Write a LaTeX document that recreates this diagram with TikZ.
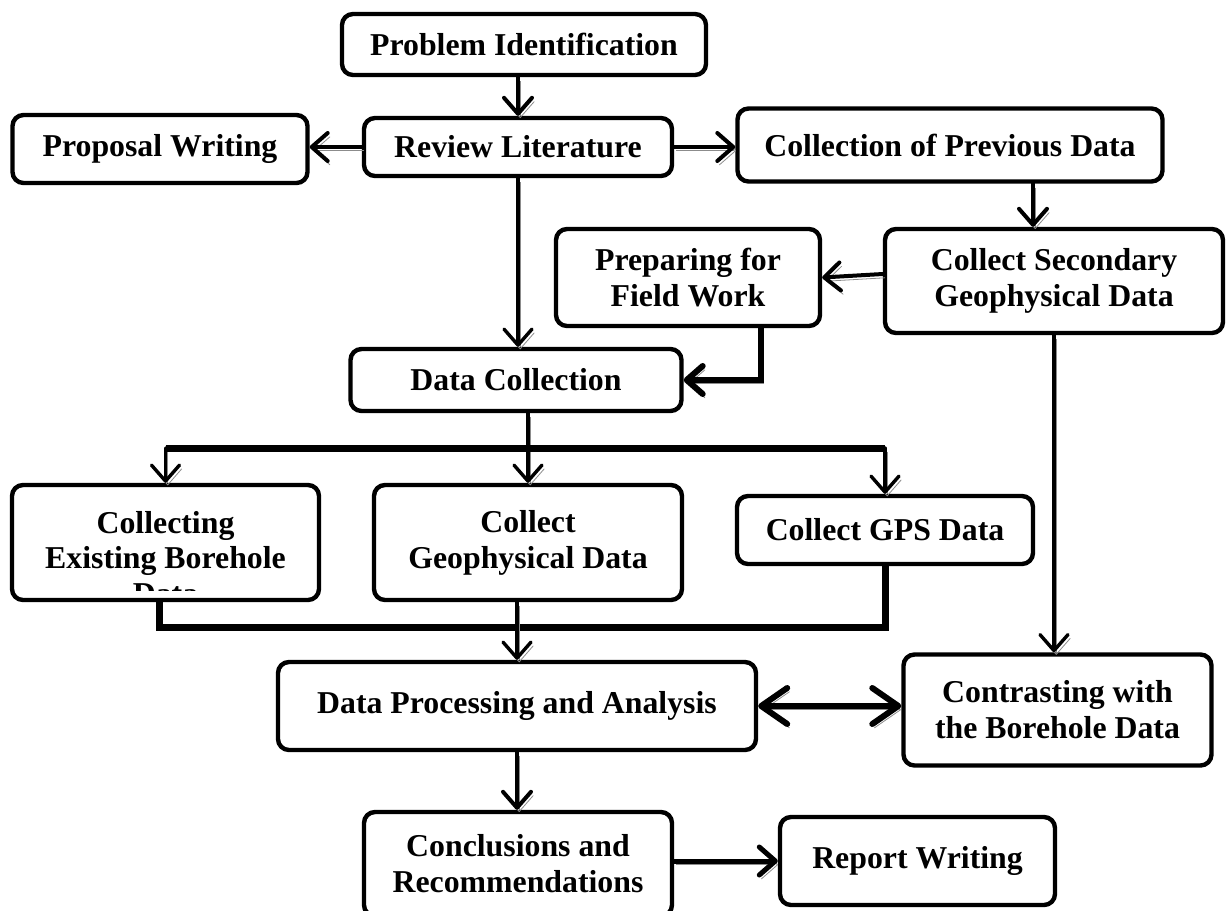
\documentclass[tikz,border=0pt]{standalone}
\usepackage{fontspec}
\setmainfont{Liberation Serif}
\usetikzlibrary{arrows.meta,calc}
\begin{document}
\begin{tikzpicture}[x=0.5pt,y=-0.5pt,
  lbl/.style={font=\fontsize{15.9}{17.9}\selectfont\bfseries},
  box/.style={draw=black, line width=2.2pt, rounded corners=5.5pt, fill=white,
    align=center, inner sep=0pt, lbl},
  txt/.style={inner sep=0pt, lbl},
  shadowed/.style={preaction={draw=black!45, transform canvas={shift={(1.1pt,-1.9pt)}}}},
  conn/.style={draw=black, line width=2pt, line cap=round, line join=miter, shadowed},
  arr/.style={conn, -{Straight Barb[length=8pt,width=14pt,line cap=round,line join=round]}},
  arrthin/.style={arr, line width=1.7pt},
  bus/.style={conn, line width=3.5pt, line cap=butt},
  dbl/.style={conn, line width=3pt,
    {Straight Barb[length=13pt,width=18pt,line cap=round,line join=round]}-{Straight Barb[length=13pt,width=18pt,line cap=round,line join=round]}}
]
\useasboundingbox (0,0) rectangle (1228,911);

% boxes
\node[box, minimum width=182pt, minimum height=30.5pt] (PI) at (524,44.5) {Problem Identification};
\node[box, minimum width=147.5pt, minimum height=34pt] (PW) at (160,149) {Proposal Writing};
\node[box, minimum width=154pt, minimum height=29pt] (RL) at (518,147) {Review Literature};
\node[box, minimum width=212.5pt, minimum height=36.5pt] (CPD) at (950,145) {Collection of Previous Data};
\node[box, minimum width=169pt, minimum height=52pt] (CSG) at (1054,281) {Collect Secondary\\Geophysical Data};
\node[box, minimum width=132pt, minimum height=48.5pt] (PFW) at (688,277.5) {Preparing for\\Field Work};
\node[box, minimum width=165.5pt, minimum height=31pt] (DC) at (516,380) {Data Collection};
\node[box, minimum width=153.5pt, minimum height=57.5pt] (CEB) at (165.5,542.5) {};
\node[box, minimum width=154pt, minimum height=57.5pt] (CGD) at (528,542.5) {Collect\\Geophysical Data};
\node[box, minimum width=148pt, minimum height=34pt] (GPS) at (885,530) {Collect GPS Data};
\node[box, minimum width=239pt, minimum height=44pt] (DPA) at (517,706) {Data Processing and Analysis};
\node[box, minimum width=154pt, minimum height=55.5pt] (CBD) at (1057.5,710) {Contrasting with\\the Borehole Data};
\node[box, minimum width=154pt, minimum height=52pt] (CR) at (518,864) {Conclusions and\\Recommendations};
\node[box, minimum width=137.5pt, minimum height=44pt] (RW) at (917.5,861) {Report Writing};

% clipped text of the borehole box
\begin{scope}
  \clip ([xshift=2pt,yshift=-2pt]CEB.north west) rectangle ([xshift=-2pt,yshift=6pt]CEB.south east);
  \node[txt, anchor=base] (CEB1) at (CEB.center |- 0,533) {Collecting};
  \node[txt, anchor=base] (CEB2) at (CEB.center |- 0,568) {Existing Borehole};
  \node[txt, anchor=base] (CEB3) at (CEB.center |- 0,604) {Data};
\end{scope}

% connectors
\draw[arr] (PI.south -| RL.north) -- (RL.north);
\draw[arr] (RL.west) -- (RL.west -| PW.east);
\draw[arr] (RL.east) -- (RL.east -| CPD.west);
\coordinate (t1) at ([xshift=-10.5pt]CSG.north);
\draw[arr] (t1 |- CPD.south) -- (t1);
\draw[arr] ([yshift=3.5pt]CSG.west) -- (PFW.east);
\coordinate (p1) at ([xshift=36.5pt]PFW.south);
\draw[arr, line width=3pt] (p1) |- (DC.east);
\draw[arrthin] (RL.south) -- (RL.south |- DC.north);

% top bus
\coordinate (busL) at (CEB.north |- 0,448);
\coordinate (busM) at (CGD.north |- 0,448);
\coordinate (busR) at (GPS.north |- 0,448);
\draw[conn] (DC.south -| busM) -- (busM);
\draw[bus] (busL) -- (busR);
\draw[arrthin] (busL) -- (CEB.north);
\draw[arrthin] (busM) -- (CGD.north);
\draw[arrthin] (busR) -- (GPS.north);

% bottom bus
\coordinate (c1) at ([xshift=-3pt]CEB.south);
\coordinate (bbR) at (GPS.south |- 0,627);
\draw[bus] (c1) |- (bbR) -- (GPS.south);
\draw[arrthin] (CGD.south -| DPA.north) -- (DPA.north);

\draw[arrthin] (CSG.south) -- (CSG.south |- CBD.north);
\draw[dbl] (DPA.east) -- (DPA.east -| CBD.west);
\draw[arr] (DPA.south) -- (DPA.south |- CR.north);
\draw[arr, line width=2.5pt] (RW.west -| CR.east) -- (RW.west);
\end{tikzpicture}
\end{document}
